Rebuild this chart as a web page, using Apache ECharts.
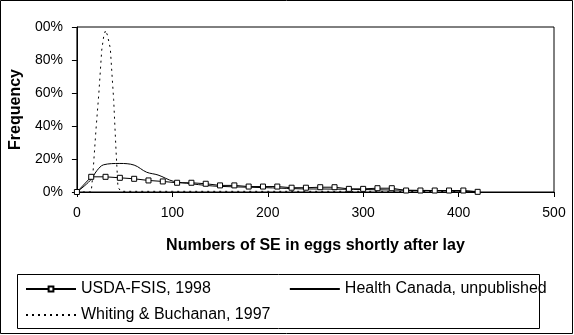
<!DOCTYPE html>
<html>
<head>
<meta charset="utf-8">
<script src="https://cdn.jsdelivr.net/npm/echarts@6/dist/echarts.min.js"></script>
<style>
html,body{margin:0;padding:0;background:#fff;}
#chart{width:574px;height:335px;}
</style>
</head>
<body>
<div id="chart"></div>
<script>
// ---- data ----
const seriesNames = ['USDA-FSIS, 1998', 'Health Canada, unpublished', 'Whiting & Buchanan, 1997'];

const usdaX = [0,15,30,45,60,75,90,105,120,135,150,165,180,195,210,225,240,255,270,285,300,315,330,345,360,375,390,405,420];
const usdaY = [0,9.2,9.2,8.6,8.0,7.0,6.4,5.6,5.6,5.0,4.0,4.0,3.3,3.3,3.3,2.6,2.6,2.9,2.9,1.9,1.9,2.3,2.3,0.9,0.9,0.9,0.9,0.9,0.1];

const hcX = [0,14,21,28,45,60,73,85,101,120,135,150,180,205,235,260,300,330,360,400,420];
const hcY = [0,7,13,16.5,17.3,16.3,12,10.3,6.5,5.0,4.0,3.4,2.9,2.5,1.9,1.8,1.5,1.2,1.0,0.6,0.3];

const wbX = [0,15,17,20,23,26,28,30,32,35,37,38.5,41,43,46,60,100,200,300,410];
const wbY = [0,0,13,38,60,86,94,98,95,87,69,56,25,3,0.4,0.4,0.4,0.4,0.4,0.3];

const xTicks = {min:0, max:500, interval:100};
const yTickLabels = ['0%','20%','40%','60%','80%','00%'];

const xTitle = 'Numbers of SE in eggs shortly after lay';
const yTitle = 'Frequency';

// ---- chart ----
const FONT = "'Liberation Sans', Arial, sans-serif";
const pairs = (xs, ys) => xs.map((x, i) => [x, ys[i]]);
const noMark = {opacity: 0};

const chart = echarts.init(document.getElementById('chart'), null, {renderer:'canvas'});
chart.setOption({
  animation: false,
  backgroundColor: '#fff',
  textStyle: {fontFamily: FONT, color: '#000'},
  grid: {left: 76, right: 20, top: 27, bottom: 143, show: true, borderColor: '#000', borderWidth: 1, containLabel: false},
  xAxis: {
    type: 'value', min: xTicks.min, max: xTicks.max, interval: xTicks.interval,
    name: xTitle, nameLocation: 'middle', nameGap: 46,
    nameTextStyle: {fontFamily: FONT, fontSize: 16, fontWeight: 'bold', color: '#000'},
    axisLine: {show: true, onZero: false, lineStyle: {color: '#000', width: 1}},
    axisTick: {show: true, inside: false, length: 5, lineStyle: {color: '#000'}},
    axisLabel: {fontFamily: FONT, fontSize: 14, color: '#000', margin: 14},
    splitLine: {show: false}
  },
  yAxis: {
    type: 'value', min: 0, max: 100, interval: 20,
    name: yTitle, nameLocation: 'middle', nameGap: 51, nameRotate: 90,
    nameTextStyle: {fontFamily: FONT, fontSize: 16, fontWeight: 'bold', color: '#000'},
    axisLine: {show: true, lineStyle: {color: '#000', width: 1}},
    axisTick: {show: true, inside: false, length: 5, lineStyle: {color: '#000'}},
    axisLabel: {fontFamily: FONT, fontSize: 14, color: '#000', margin: 14,
      formatter: v => yTickLabels[Math.round(v / 20)]},
    splitLine: {show: false}
  },
  legend: [
    {
      data: [seriesNames[0], {name: seriesNames[1], itemStyle: noMark}], left: 20, top: 276, orient: 'horizontal',
      itemWidth: 50, itemHeight: 6, itemGap: 78,
      textStyle: {fontFamily: FONT, fontSize: 16, color: '#000'}
    },
    {
      data: [{name: seriesNames[2], itemStyle: noMark}], left: 20, top: 302, orient: 'horizontal',
      itemWidth: 50, itemHeight: 6,
      textStyle: {fontFamily: FONT, fontSize: 16, color: '#000'}
    }
  ],
  graphic: [
    {type: 'rect', shape: {x: 0.5, y: 0.5, width: 572, height: 333}, style: {fill: 'none', stroke: '#000', lineWidth: 1}, silent: true, z: 100},
    {type: 'rect', shape: {x: 17.5, y: 274.5, width: 522, height: 54}, style: {fill: 'none', stroke: '#000', lineWidth: 1}, silent: true, z: 100}
  ],
  series: [
    {
      name: seriesNames[0], type: 'line', data: pairs(usdaX, usdaY),
      symbol: 'rect', symbolSize: 5, showSymbol: true,
      lineStyle: {color: '#000', width: 1},
      itemStyle: {color: '#fff', borderColor: '#000', borderWidth: 1},
      z: 3
    },
    {
      name: seriesNames[1], type: 'line', data: pairs(hcX, hcY),
      symbol: 'none', smooth: 0.35,
      lineStyle: {color: '#000', width: 1},
      itemStyle: {color: '#000'},
      z: 2
    },
    {
      name: seriesNames[2], type: 'line', data: pairs(wbX, wbY),
      symbol: 'none',
      lineStyle: {color: '#000', width: 1, type: [2, 4]},
      itemStyle: {color: '#000'},
      z: 2
    }
  ]
});
</script>
</body>
</html>
